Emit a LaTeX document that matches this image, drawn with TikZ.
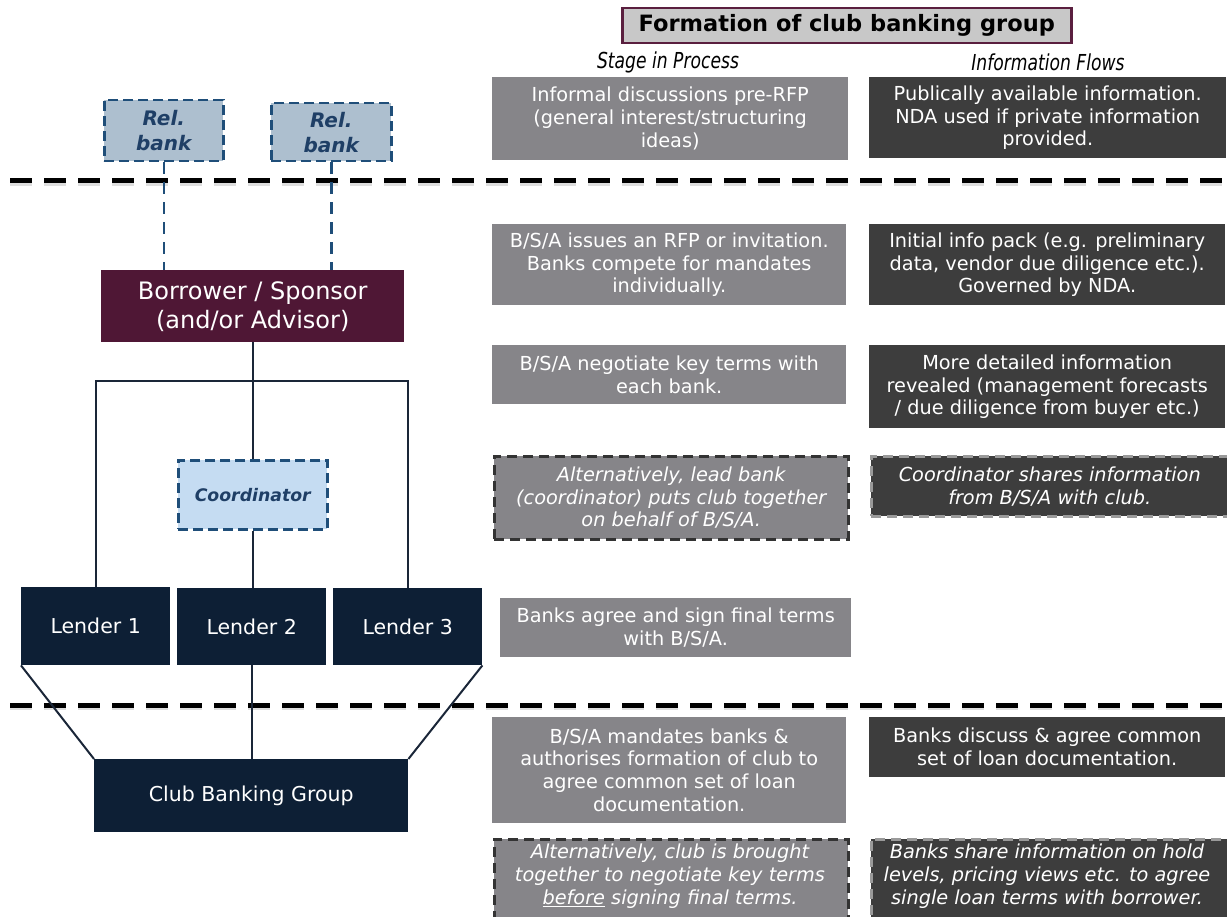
\documentclass[tikz,border=0pt]{standalone}
\usepackage{fontspec}
\setmainfont{DejaVu Sans}
\newfontfamily\hdrfont{DejaVu Sans}[FakeStretch=0.78]
\definecolor{stagegray}{HTML}{868589}
\definecolor{infodark}{HTML}{3D3D3D}
\definecolor{titlefill}{HTML}{C8C8C8}
\definecolor{titleborder}{HTML}{5A1F3F}
\definecolor{relfill}{HTML}{ADBFCF}
\definecolor{reldash}{HTML}{1F4E79}
\definecolor{reltext}{HTML}{1F3F66}
\definecolor{coordfill}{HTML}{C5DCF2}
\definecolor{maroon}{HTML}{4F1735}
\definecolor{navy}{HTML}{0D1F35}
\definecolor{conncol}{HTML}{1A2638}
\definecolor{altdash}{HTML}{333333}
\definecolor{altdashlight}{HTML}{9A9A9A}
\begin{document}
\begin{tikzpicture}[x=1pt,y=-1pt,
  bx/.style={anchor=north west, inner sep=0pt, align=center, text=white},
  txt/.style={font=\fontsize{19.3}{22.8}\selectfont},
  stage/.style={bx, txt, fill=stagegray},
  info/.style={bx, txt, fill=infodark},
  altstage/.style={stage, draw=altdash, line width=2.5pt, dash pattern=on 10pt off 6pt, font=\fontsize{19.3}{22.8}\selectfont\itshape},
  altinfo/.style={info, draw=altdashlight, line width=2.5pt, dash pattern=on 10pt off 6pt, font=\fontsize{19.3}{22.8}\selectfont\itshape},
  relbank/.style={bx, fill=relfill, draw=reldash, line width=2.5pt, dash pattern=on 10pt off 5pt, text=reltext, font=\fontsize{20}{25}\selectfont\bfseries\itshape},
  coordbox/.style={bx, fill=coordfill, draw=reldash, line width=2.5pt, dash pattern=on 10pt off 5pt, text=reltext, font=\fontsize{17.3}{20}\selectfont\bfseries\itshape},
  navybox/.style={bx, fill=navy, font=\fontsize{20.5}{24}\selectfont},
  maroonbox/.style={bx, fill=maroon, font=\fontsize{24}{29}\selectfont},
  conn/.style={draw=conncol, line width=2pt},
  dashconn/.style={draw=reldash, line width=2.5pt, dash pattern=on 12pt off 8pt},
  sepline/.style={draw=black, line width=5pt, dash pattern=on 22pt off 12pt},
  sepshadow/.style={draw=black!13, line width=5pt, dash pattern=on 22pt off 12pt},
  hdr/.style={font=\fontsize{22}{26}\selectfont\hdrfont\itshape, text=black, inner sep=0pt}
]
\useasboundingbox (0,0) rectangle (1227,917);

% title and headers
\node[bx, fill=titlefill, draw=titleborder, line width=2.5pt, text=black,
  minimum width=449pt, minimum height=35pt, font=\fontsize{22.5}{25}\selectfont\bfseries]
  (title) at (621,7) {Formation of club banking group};
\node[hdr] (hstage) at (668,62) {Stage in Process};
\node[hdr] (hinfo) at (1048,62) {Information Flows};

% separators
\coordinate (s1a) at (10,181); \coordinate (s1b) at (1227,181);
\coordinate (s2a) at (10,705); \coordinate (s2b) at (1227,705);
\draw[sepshadow] ([yshift=-2.5pt]s1a) -- ([yshift=-2.5pt]s1b);
\draw[sepshadow] ([yshift=-2.5pt]s2a) -- ([yshift=-2.5pt]s2b);
\draw[sepline] (s1a) -- (s1b);
\draw[sepline] (s2a) -- (s2b);

% stage boxes
\node[stage, minimum width=356pt, minimum height=83pt] (st1) at (492,77)
  {Informal discussions pre-RFP\\(general interest/structuring\\ideas)};
\node[stage, minimum width=354pt, minimum height=81pt] (st2) at (492,224)
  {B/S/A issues an RFP or invitation.\\Banks compete for mandates\\individually.};
\node[stage, minimum width=354pt, minimum height=59pt] (st3) at (492,345)
  {B/S/A negotiate key terms with\\each bank.};
\node[altstage, minimum width=354pt, minimum height=83pt] (st4) at (493,455)
  {Alternatively, lead bank\\(coordinator) puts club together\\on behalf of B/S/A.};
\node[stage, minimum width=351pt, minimum height=59pt] (st5) at (500,598)
  {Banks agree and sign final terms\\with B/S/A.};
\node[stage, minimum width=354pt, minimum height=106pt] (st6) at (492,717)
  {B/S/A mandates banks \&\\authorises formation of club to\\agree common set of loan\\documentation.};
\node[altstage, minimum width=354pt, minimum height=100pt] (st7) at (493,838) {};
\node[text=white, align=center, font=\fontsize{19.3}{22.8}\selectfont\itshape, anchor=north, inner sep=0pt]
  (st7t) at (670,844) {Alternatively, club is brought\\together to negotiate key terms\\\underline{before} signing final terms.};

% info boxes
\node[info, minimum width=357pt, minimum height=81pt] (in1) at (869,77)
  {Publically available information.\\NDA used if private information\\provided.};
\node[info, minimum width=356pt, minimum height=81pt] (in2) at (869,224)
  {Initial info pack (e.g. preliminary\\data, vendor due diligence etc.).\\Governed by NDA.};
\node[info, minimum width=356pt, minimum height=83pt] (in3) at (869,345)
  {More detailed information\\revealed (management forecasts\\/ due diligence from buyer etc.)};
\node[altinfo, minimum width=357pt, minimum height=60pt] (in4) at (870,455)
  {Coordinator shares information\\from B/S/A with club.};
\node[info, minimum width=356pt, minimum height=60pt] (in6) at (869,717)
  {Banks discuss \& agree common\\set of loan documentation.};
\node[altinfo, minimum width=357pt, minimum height=100pt] (in7) at (870,838) {};
\node[text=white, align=center, font=\fontsize{19.3}{22.8}\selectfont\itshape, anchor=north, inner sep=0pt]
  (in7t) at (1047,844) {Banks share information on hold\\levels, pricing views etc. to agree\\single loan terms with borrower.};

% left diagram
\node[relbank, minimum width=119pt, minimum height=61pt] (rb1) at (103,99) {Rel.\\bank};
\node[relbank, minimum width=120pt, minimum height=58pt] (rb2) at (270,102) {Rel.\\bank};
\node[maroonbox, minimum width=303pt, minimum height=72pt] (bor) at (101,270)
  {Borrower / Sponsor\\(and/or Advisor)};
\node[coordbox, minimum width=149pt, minimum height=69pt] (coord) at (177,459) {Coordinator};
\node[navybox, minimum width=149pt, minimum height=78pt] (l1) at (21,587) {Lender 1};
\node[navybox, minimum width=149pt, minimum height=77pt] (l2) at (177,588) {Lender 2};
\node[navybox, minimum width=149pt, minimum height=77pt] (l3) at (333,588) {Lender 3};
\node[navybox, minimum width=314pt, minimum height=73pt] (cbg) at (94,759) {Club Banking Group};

\draw[dashconn] (rb1.south) -- (rb1.south |- bor.north);
\draw[dashconn] (rb2.south) -- (rb2.south |- bor.north);
\draw[conn] (bor.south) -- (bor.south |- coord.north);
\draw[conn] (l1.north) |- (bor.south |- 0,381) -| (l3.north);
\draw[conn] (coord.south) -- (coord.south |- l2.north);
\draw[conn] (l1.south west) -- (cbg.north west);
\draw[conn] (l3.south east) -- (cbg.north east);
\draw[conn] (l2.south) -- (l2.south |- cbg.north);
\end{tikzpicture}
\end{document}
